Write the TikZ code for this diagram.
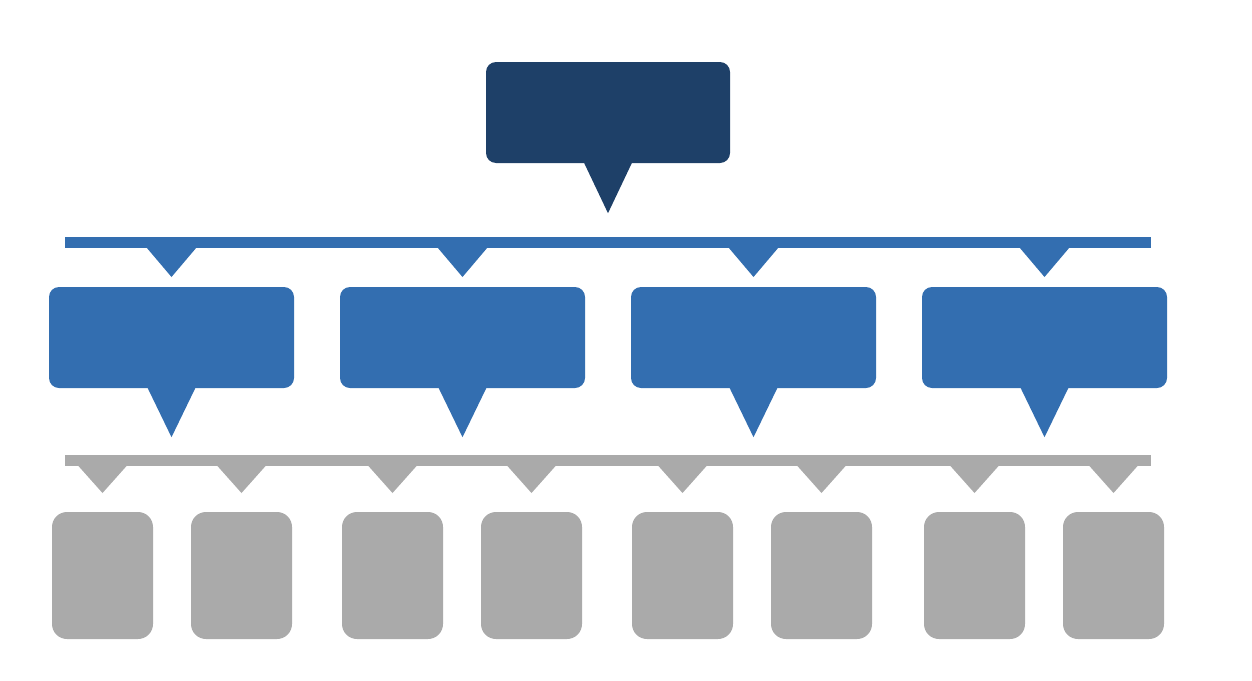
\documentclass[tikz,border=0pt]{standalone}
\usetikzlibrary{calc}
\definecolor{topblue}{HTML}{1E4068}
\definecolor{midblue}{HTML}{336EB0}
\definecolor{lightgray}{HTML}{AAAAAA}
\begin{document}
\begin{tikzpicture}[x=1pt,y=-1pt,
  topbox/.style={fill=topblue,rounded corners=10pt,minimum width=244pt,minimum height=101pt,inner sep=0pt},
  midbox/.style={fill=midblue,rounded corners=10pt,minimum width=245pt,minimum height=101pt,inner sep=0pt},
  leafbox/.style={fill=lightgray,rounded corners=15pt,minimum width=101pt,minimum height=127pt,inner sep=0pt}]
\useasboundingbox (0,0) rectangle (1252,680);
% top box
\node[topbox] (top) at (608,112.5) {};
\fill[topblue] ($(top.south)+(-24,-0.5)$) -- ($(top.south)+(24,-0.5)$) -- ($(top.south)+(0,50)$) -- cycle;
% blue bar
\coordinate (bl) at (65,237);
\coordinate (br) at (1151,248);
\fill[midblue] (bl) rectangle (br);
% middle boxes
\foreach \i/\x in {1/171.5,2/462.5,3/753.5,4/1044.5}{
  \node[midbox] (m\i) at (\x,337.5) {};
  \fill[midblue] (\x-25,247.5) -- (\x+25,247.5) -- (\x,277) -- cycle;
  \fill[midblue] ($(m\i.south)+(-24,-0.5)$) -- ($(m\i.south)+(24,-0.5)$) -- ($(m\i.south)+(0,49)$) -- cycle;
}
% gray bar
\coordinate (gl) at (65,455);
\coordinate (gr) at (1151,466);
\fill[lightgray] (gl) rectangle (gr);
% leaf boxes
\foreach \i/\x in {1/102.5,2/241.5,3/392.5,4/531.5,5/682.5,6/821.5,7/974.5,8/1113.5}{
  \node[leafbox] (l\i) at (\x,575.5) {};
  \fill[lightgray] (\x-24.5,465.5) -- (\x+24.5,465.5) -- (\x,493) -- cycle;
}
\end{tikzpicture}
\end{document}
